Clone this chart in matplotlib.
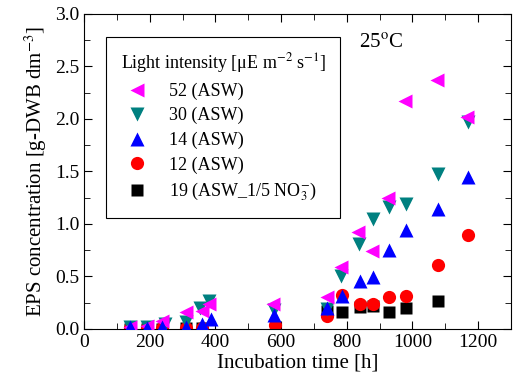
import matplotlib
matplotlib.use("Agg")
import matplotlib.pyplot as plt
from matplotlib.ticker import MultipleLocator

plt.rcParams["font.family"] = ["Liberation Serif", "DejaVu Serif"]
plt.rcParams["mathtext.fontset"] = "stix"

# EPS concentration [g-DWB dm-3] vs incubation time [h]
t_52 = [140, 191, 236, 310, 358, 381, 576, 739, 782, 835, 878, 926, 977, 1074, 1167]
eps_52 = [0.02, 0.03, 0.08, 0.16, 0.17, 0.24, 0.24, 0.30, 0.59, 0.92, 0.74, 1.25, 2.17, 2.37, 2.02]

t_30 = [140, 191, 247, 310, 353, 381, 580, 739, 784, 838, 881, 929, 980, 1077, 1168]
eps_30 = [0.02, 0.02, 0.05, 0.07, 0.20, 0.27, 0.18, 0.19, 0.50, 0.81, 1.05, 1.16, 1.19, 1.48, 1.97]

t_14 = [140, 191, 236, 310, 358, 388, 580, 739, 787, 840, 881, 929, 982, 1077, 1168]
eps_14 = [0.02, 0.01, 0.02, 0.02, 0.05, 0.09, 0.13, 0.20, 0.31, 0.46, 0.49, 0.75, 0.94, 1.14, 1.45]

t_12 = [140, 191, 236, 310, 358, 581, 741, 786, 840, 881, 929, 980, 1077, 1168]
eps_12 = [0.01, 0.01, 0.01, 0.01, 0.01, 0.04, 0.12, 0.32, 0.24, 0.24, 0.30, 0.31, 0.61, 0.89]

t_19 = [140, 191, 236, 310, 358, 739, 786, 840, 881, 929, 980, 1077]
eps_19 = [0.0, 0.0, 0.0, 0.01, 0.01, 0.17, 0.165, 0.21, 0.22, 0.16, 0.20, 0.27]

fig = plt.figure(figsize=(5.16, 3.87), dpi=100)
ax = fig.add_axes([0.163, 0.150, 0.827, 0.814])

ax.plot(t_52, eps_52, ls="none", marker="<", ms=10.5, color="#ff00ff", mec="none",
        label="52 (ASW)", zorder=4)
ax.plot(t_30, eps_30, ls="none", marker="v", ms=10.5, color="#008080", mec="none",
        label="30 (ASW)", zorder=3)
ax.plot(t_14, eps_14, ls="none", marker="^", ms=10.5, color="#0000ff", mec="none",
        label="14 (ASW)", zorder=5)
ax.plot(t_12, eps_12, ls="none", marker="o", ms=9.5, color="#ff0000", mec="none",
        label="12 (ASW)", zorder=2.5)
ax.plot(t_19, eps_19, ls="none", marker="s", ms=8.5, color="black", mec="none",
        label="19 (ASW_1/5 NO$_3^{-}$)", zorder=2)

ax.set_xlim(0, 1300)
ax.set_ylim(0, 3.0)
ax.xaxis.set_major_locator(MultipleLocator(200))
ax.xaxis.set_minor_locator(MultipleLocator(100))
ax.yaxis.set_major_locator(MultipleLocator(0.5))
ax.yaxis.set_minor_locator(MultipleLocator(0.25))
ax.yaxis.set_major_formatter(matplotlib.ticker.FormatStrFormatter("%.1f"))
ax.tick_params(which="both", direction="in", top=True, right=True, labelsize=14)
ax.tick_params(which="major", length=6)
ax.tick_params(which="minor", length=4)

ax.set_xlabel("Incubation time [h]", fontsize=15, labelpad=2)
ax.set_ylabel("EPS concentration [g-DWB dm$^{-3}$]", fontsize=15, labelpad=4)

ax.text(0.695, 0.905, "25$^{\\rm o}$C", transform=ax.transAxes, fontsize=15,
        ha="center", va="center")

leg = ax.legend(loc="upper left", bbox_to_anchor=(0.052, 0.927), borderaxespad=0,
                title="Light intensity [\u03bcE m$^{-2}$ s$^{-1}$]",
                title_fontsize=13, fontsize=13, frameon=True, fancybox=False,
                edgecolor="black", framealpha=1, handlelength=1.8,
                handletextpad=0.9, markerscale=1.0,
                labelspacing=0.4, borderpad=0.8)
leg._legend_box.align = "left"
leg.get_frame().set_linewidth(0.8)

fig.savefig("out.png", dpi=100)
